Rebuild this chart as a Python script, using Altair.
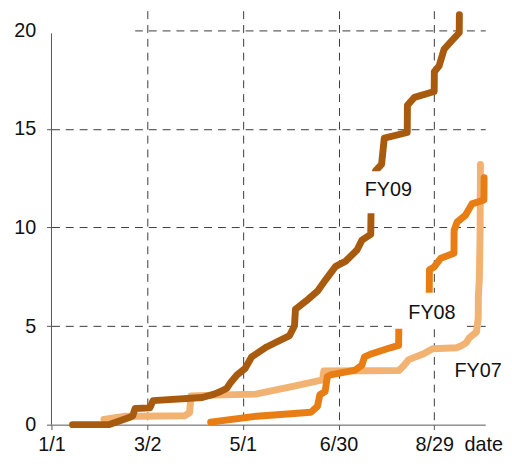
import altair as alt
import pandas as pd

# ---- data (day of year, cumulative value) ----
fy07_day = [32.9, 46.3, 55, 83.5, 86.6, 87.5, 102, 128, 151.4, 170, 170.8, 217.9, 221, 224, 233.4, 239, 254, 257, 260, 262, 266.5, 267.6, 267.7, 268.3, 268.8, 269.0]
fy07_val = [0.27, 0.43, 0.43, 0.45, 0.6, 1.45, 1.5, 1.55, 1.94, 2.27, 2.72, 2.75, 3.0, 3.3, 3.6, 3.85, 3.9, 4.0, 4.15, 4.4, 4.7, 5.4, 6.5, 7.4, 9.8, 13.2]

fy08_day = [99.8, 128.7, 162.7, 166.8, 168.3, 171.6, 173, 175, 190.5, 194.7, 196.3, 200.9, 211, 217.7, 217.8, 226, 236.9, 237.0, 240, 244.1, 252.4, 252.5, 254.4, 259.6, 263.7, 271.2, 271.3]
fy08_val = [0.13, 0.43, 0.63, 0.93, 1.52, 1.68, 2.44, 2.52, 2.77, 3.02, 3.44, 3.6, 3.86, 4.02, 4.9, 5.8, 6.6, 7.86, 8.0, 8.44, 8.69, 9.86, 10.28, 10.62, 11.2, 11.4, 12.53]

fy09_day = [13.2, 35.9, 48.3, 51, 52.4, 61.7, 63.7, 94.6, 102, 106, 110, 112, 116.3, 121.4, 125.6, 134.9, 149.3, 152.4, 153, 159.6, 166.8, 172, 178.2, 184.3, 191.6, 194.7, 200.2, 200.4, 201.5, 203.2, 207, 208.7, 223.1, 223.2, 227.6, 240, 240.1, 243.1, 246.2, 251.3, 255.7, 255.8]
fy09_val = [0.0, 0.0, 0.35, 0.45, 0.82, 0.85, 1.22, 1.38, 1.55, 1.68, 1.85, 2.1, 2.52, 2.85, 3.44, 3.94, 4.52, 5.02, 5.86, 6.27, 6.77, 7.36, 8.03, 8.28, 8.86, 9.36, 9.65, 10.8, 12.0, 12.87, 13.2, 14.53, 14.82, 16.2, 16.6, 16.9, 17.9, 18.2, 19.04, 19.5, 19.88, 20.8]

series_names = ["FY07", "FY08", "FY09"]
series_colors = ["#F2B272", "#E87D14", "#A85B0F"]

tick_days = [0, 60, 120, 180, 240]
tick_labels = ["1/1", "3/2", "5/1", "6/30", "8/29"]
y_ticks = [0, 5, 10, 15, 20]

label_text = ["FY09", "FY08", "FY07"]
label_day = [211.2, 238.6, 267.5]
label_val = [11.9, 5.65, 2.7]

# white label boxes (hide lines / grid behind data labels)
box_x1 = [192.2, 214.6, -4.5]
box_x2 = [230.1, 259.2, 52.5]
box_y1 = [10.73, 4.86, 19.86]
box_y2 = [12.86, 6.69, 20.5]

FONT = "Liberation Sans"

x_scale = alt.Scale(domain=[0, 272], nice=False, zero=False)
y_scale = alt.Scale(domain=[0, 21], nice=False)

label_expr = " : ".join(
    [f"datum.value == {d} ? '{l}'" for d, l in zip(tick_days, tick_labels)]
) + " : ''"

grid_op = {"condition": {"test": "datum.value === 0", "value": 0}, "value": 1}

x_axis = alt.Axis(
    values=tick_days, labelExpr=label_expr, labelFlush=False, grid=True,
    gridDash=[8, 6], gridColor="#3a3a3a", gridOpacity=grid_op,
    domainColor="#555555", tickColor="#555555", tickSize=5, labelFont=FONT,
    labelFontSize=20, labelColor="#111111", labelPadding=5, title="date",
    titleFont=FONT, titleFontSize=20, titleFontWeight="normal",
    titleColor="#111111", titleX=437, titleY=10, titleAlign="center",
    titleBaseline="top",
)
y_axis = alt.Axis(
    values=y_ticks, labelFlush=False, grid=True, gridDash=[8, 6],
    gridColor="#3a3a3a", gridOpacity=grid_op, domain=False,
    tickColor="#555555", tickSize=5, labelFont=FONT, labelFontSize=20,
    labelColor="#111111", labelPadding=11, title=None,
)


def X(field):
    return alt.X(field, type="quantitative", scale=x_scale, axis=x_axis)


def Y(field):
    return alt.Y(field, type="quantitative", scale=y_scale, axis=y_axis)


def series_df(name, days, vals):
    return pd.DataFrame({"series": name, "day": days, "value": vals,
                         "order": list(range(len(days)))})


frames = {
    "FY07": series_df("FY07", fy07_day, fy07_val),
    "FY08": series_df("FY08", fy08_day, fy08_val),
    "FY09": series_df("FY09", fy09_day, fy09_val),
}

layers = []

# y axis line
axis_df = pd.DataFrame({"x": [0], "y": [0], "y2": [19.86]})
layers.append(
    alt.Chart(axis_df).mark_rule(color="#555555", strokeWidth=1).encode(
        x=X("x"), y=Y("y"), y2="y2:Q",
    )
)

for name, col in zip(series_names, series_colors):
    layers.append(
        alt.Chart(frames[name]).mark_line(
            color=col, strokeWidth=7, strokeCap="round", strokeJoin="round"
        ).encode(
            x=X("day"), y=Y("value"), order="order:Q",
        )
    )

box_df = pd.DataFrame({"x1": box_x1, "x2": box_x2, "y1": box_y1, "y2": box_y2})
layers.append(
    alt.Chart(box_df).mark_rect(color="white").encode(
        x=X("x1"), x2="x2:Q", y=Y("y1"), y2="y2:Q",
    )
)

lab_df = pd.DataFrame({"t": label_text, "d": label_day, "v": label_val})
layers.append(
    alt.Chart(lab_df).mark_text(
        font=FONT, fontSize=20, color="#111111", align="center", baseline="middle"
    ).encode(
        x=X("d"), y=Y("v"), text="t:N",
    )
)

chart = alt.layer(*layers).properties(
    width=439, height=419,
    autosize=alt.AutoSizeParams(type="none"),
    padding={"left": 44, "top": 0, "right": 19, "bottom": 27},
).configure_view(stroke=None)

chart.save("out.html", embed_options={"renderer": "svg", "actions": False})
